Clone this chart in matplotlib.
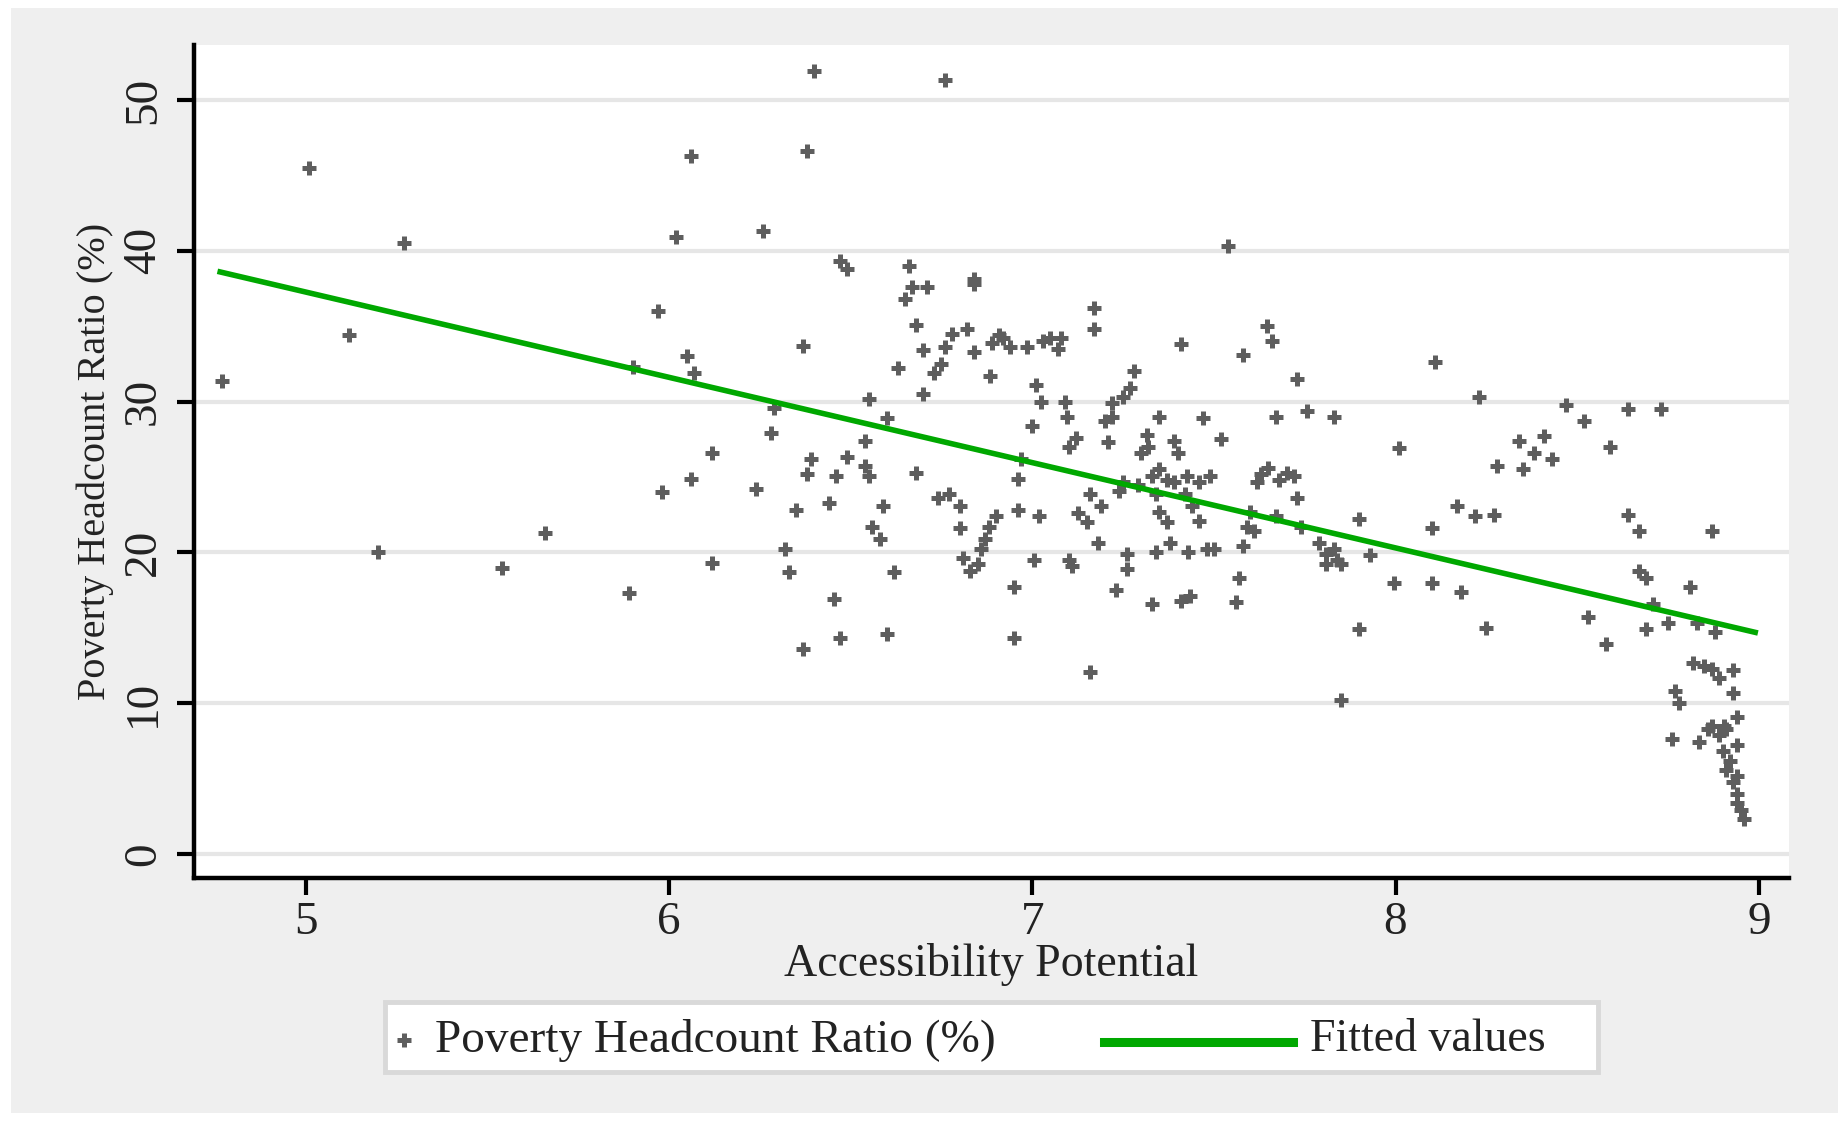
import matplotlib.pyplot as plt
from matplotlib.patches import Rectangle
from matplotlib.lines import Line2D

# ---------------- data ----------------
access = [4.77, 5.01, 5.12, 5.20, 5.27, 5.54, 5.66, 5.89, 5.90, 5.97,
          5.98, 6.02, 6.05, 6.06, 6.06, 6.07, 6.12, 6.12, 6.24, 6.26,
          6.28, 6.29, 6.32, 6.33, 6.35, 6.37, 6.37, 6.38, 6.38, 6.39,
          6.40, 6.44, 6.455, 6.46, 6.47, 6.47, 6.49, 6.49, 6.54, 6.54,
          6.55, 6.55, 6.56, 6.58, 6.59, 6.60, 6.60, 6.62, 6.63, 6.65,
          6.66, 6.67, 6.68, 6.68, 6.70, 6.70, 6.71, 6.73, 6.74, 6.75,
          6.76, 6.76, 6.77, 6.78, 6.80, 6.80, 6.81, 6.82, 6.83, 6.84,
          6.84, 6.84, 6.85, 6.86, 6.87, 6.885, 6.88, 6.89, 6.90, 6.91,
          6.92, 6.94, 6.95, 6.95, 6.96, 6.96, 6.97, 6.985, 7.00, 7.005,
          7.01, 7.02, 7.025, 7.03, 7.05, 7.07, 7.08, 7.09, 7.095, 7.10,
          7.10, 7.11, 7.12, 7.125, 7.15, 7.16, 7.16, 7.17, 7.17, 7.18,
          7.19, 7.20, 7.21, 7.22, 7.22, 7.23, 7.24, 7.25, 7.25, 7.26,
          7.26, 7.27, 7.28, 7.29, 7.30, 7.315, 7.32, 7.33, 7.33, 7.34,
          7.34, 7.35, 7.35, 7.35, 7.37, 7.37, 7.38, 7.39, 7.39, 7.40,
          7.41, 7.41, 7.42, 7.425, 7.43, 7.435, 7.44, 7.46, 7.46, 7.47,
          7.48, 7.49, 7.50, 7.52, 7.54, 7.56, 7.57, 7.58, 7.58, 7.59,
          7.60, 7.61, 7.62, 7.63, 7.645, 7.65, 7.66, 7.67, 7.67, 7.68,
          7.70, 7.72, 7.73, 7.73, 7.74, 7.755, 7.79, 7.81, 7.81, 7.83,
          7.83, 7.84, 7.85, 7.85, 7.90, 7.90, 7.93, 7.995, 8.01, 8.10,
          8.10, 8.11, 8.17, 8.18, 8.22, 8.23, 8.25, 8.27, 8.28, 8.34,
          8.35, 8.38, 8.41, 8.43, 8.47, 8.52, 8.53, 8.58, 8.59, 8.64,
          8.64, 8.67, 8.67, 8.69, 8.69, 8.71, 8.73, 8.75, 8.76, 8.77,
          8.78, 8.81, 8.82, 8.83, 8.835, 8.85, 8.86, 8.87, 8.87, 8.87,
          8.88, 8.89, 8.89, 8.90, 8.905, 8.91, 8.91, 8.92, 8.93, 8.93,
          8.93, 8.94, 8.94, 8.94, 8.95, 8.96, 8.94, 8.94]
poverty = [31.4, 45.5, 34.4, 20.0, 40.5, 19.0, 21.3, 17.3, 32.3, 36.0,
           24.0, 40.9, 33.0, 46.3, 24.9, 31.9, 26.6, 19.3, 24.2, 41.3,
           27.9, 29.6, 20.2, 18.7, 22.8, 13.6, 33.7, 46.6, 25.2, 26.2,
           51.9, 23.3, 16.9, 25.1, 14.3, 39.3, 38.8, 26.3, 27.4, 25.7,
           30.2, 25.1, 21.7, 20.9, 23.1, 14.6, 28.9, 18.7, 32.2, 36.8,
           39.0, 37.6, 35.1, 25.3, 33.4, 30.5, 37.6, 31.9, 23.6, 32.5,
           51.3, 33.6, 23.9, 34.5, 23.1, 21.6, 19.6, 34.8, 18.8, 38.1,
           37.8, 33.3, 19.2, 20.2, 20.9, 31.7, 21.7, 33.9, 22.4, 34.4,
           34.2, 33.6, 17.7, 14.3, 22.8, 24.9, 26.2, 33.6, 28.4, 19.5,
           31.1, 22.4, 30.0, 34.0, 34.2, 33.5, 34.2, 30.0, 29.0, 27.0,
           19.5, 19.1, 27.6, 22.6, 22.0, 23.9, 12.1, 36.2, 34.8, 20.6,
           23.1, 28.7, 27.3, 29.0, 29.9, 17.5, 24.1, 24.7, 30.3, 19.9,
           18.9, 30.9, 32.0, 24.5, 26.6, 27.8, 27.0, 16.6, 25.1, 23.9,
           20.0, 22.7, 29.0, 25.5, 24.8, 22.0, 20.6, 24.7, 27.4, 26.6,
           16.8, 33.8, 23.9, 25.1, 20.0, 17.1, 23.1, 24.7, 22.1, 28.9,
           20.2, 25.1, 20.2, 27.5, 40.3, 16.7, 18.3, 33.1, 20.4, 21.7,
           22.7, 21.4, 24.7, 25.2, 35.0, 25.6, 34.0, 29.0, 22.4, 24.8,
           25.3, 25.1, 23.6, 31.5, 21.7, 29.4, 20.6, 19.9, 19.2, 20.2,
           29.0, 19.5, 10.2, 19.2, 22.2, 14.9, 19.8, 18.0, 26.9, 18.0,
           21.6, 32.6, 23.1, 17.4, 22.4, 30.3, 15.0, 22.5, 25.7, 27.4,
           25.5, 26.6, 27.7, 26.2, 29.8, 28.7, 15.7, 13.9, 27.0, 29.5,
           22.5, 21.4, 18.8, 18.3, 14.9, 16.6, 29.5, 15.3, 7.6, 10.8,
           10.0, 17.7, 12.7, 15.3, 7.4, 12.5, 8.3, 12.3, 8.5, 21.4,
           14.7, 7.9, 11.7, 6.8, 8.5, 5.6, 8.3, 6.2, 10.7, 12.2,
           4.8, 4.0, 7.2, 3.4, 2.9, 2.3, 5.2, 9.1]

# fitted values line (end points of the linear fit)
fit_x = [4.765, 8.99]
fit_y = [38.6, 14.7]

x_ticks = [5, 6, 7, 8, 9]
y_ticks = [0, 10, 20, 30, 40, 50]

W, H = 1843, 1121
GRAY_MARK = '#5e5e5e'
GREEN = '#00a800'

plt.rcParams['font.family'] = ['Liberation Serif', 'DejaVu Serif']

fig = plt.figure(figsize=(W / 100, H / 100), dpi=100)
fig.patch.set_facecolor('white')
# light gray graph region
fig.add_artist(Rectangle((11 / W, 1 - 1113 / H), (1838 - 11) / W, (1113 - 8) / H,
                         transform=fig.transFigure, facecolor='#efefef',
                         edgecolor='none', zorder=-10))

ax = fig.add_axes([194 / W, 1 - 878 / H, (1789 - 194) / W, (878 - 45) / H])
ax.set_facecolor('white')

ax.plot(access, poverty, linestyle='none', marker='+', ms=10, mew=3.6,
        color=GRAY_MARK, zorder=3)
ax.plot(fit_x, fit_y, color=GREEN, lw=4, zorder=4)

ax.set_xlim(4.693, 9.083)
ax.set_ylim(-1.59, 53.65)
ax.set_xticks(x_ticks)
ax.set_yticks(y_ticks)
ax.yaxis.grid(True, color='#e6e6e6', lw=3)
ax.set_axisbelow(True)

for s in ['top', 'right']:
    ax.spines[s].set_visible(False)
for s in ['left', 'bottom']:
    ax.spines[s].set_linewidth(3.2)
    ax.spines[s].set_color('black')

ax.tick_params(direction='out', length=12, width=3, labelsize=34,
               labelcolor='#222222')
ax.tick_params(axis='x', pad=5)
ax.tick_params(axis='y', pad=9)
for lab in ax.get_yticklabels():
    lab.set_rotation(90)
    lab.set_va('center')

ax.set_xlabel('Accessibility Potential', fontsize=33, color='#222222')
ax.xaxis.set_label_coords(0.5, -0.078)
ax.set_ylabel('Poverty Headcount Ratio (%)', fontsize=29, color='#222222')
ax.yaxis.set_label_coords(-0.05, 0.5)

# legend box, drawn in figure coordinates
fig.add_artist(Rectangle((385 / W, 1 - 1072 / H), (1598 - 385) / W, 70 / H,
                         transform=fig.transFigure, facecolor='white',
                         edgecolor='#d9d9d9', lw=3.5))
fig.add_artist(Line2D([404 / W], [1 - 1040 / H], marker='+', ms=10, mew=3.6,
                      color=GRAY_MARK, transform=fig.transFigure))
fig.text(435 / W, 1 - 1040 / H, 'Poverty Headcount Ratio (%)', fontsize=34,
         va='center', color='#222222')
fig.add_artist(Line2D([1104 / W, 1293 / W], [1 - 1042 / H, 1 - 1042 / H],
                      color=GREEN, lw=6.5, transform=fig.transFigure))
fig.text(1310 / W, 1 - 1040 / H, 'Fitted values', fontsize=33,
         va='center', color='#222222')

fig.savefig('out.png', dpi=100, facecolor=fig.get_facecolor())
